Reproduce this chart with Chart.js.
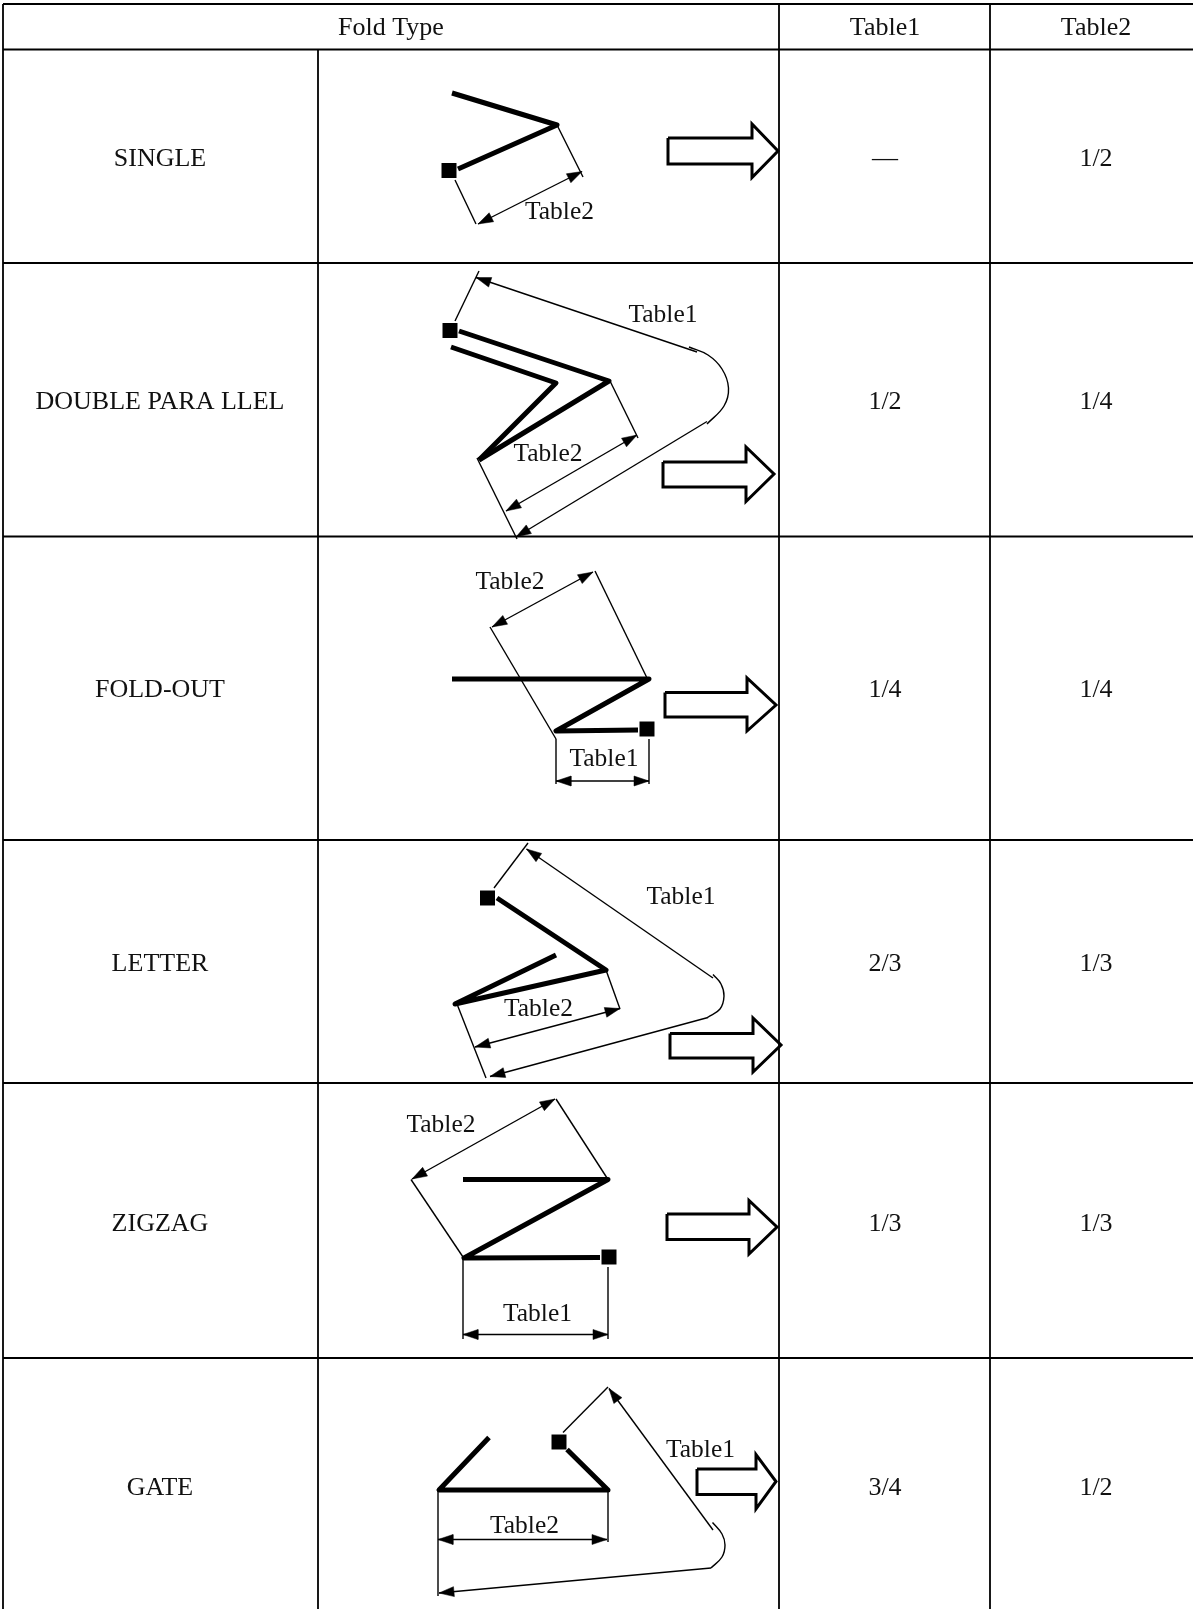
<!DOCTYPE html>
<html lang="en">
<head>
<meta charset="UTF-8">
<title>Fold Type</title>
<script src="https://cdn.jsdelivr.net/npm/chart.js@4.4.0/dist/chart.umd.min.js"></script>
<style>
*{margin:0;padding:0}
html,body{background:#fff;overflow:hidden}
canvas{display:block}
</style>
</head>
<body>
<canvas id="foldChart" width="1193" height="1609"></canvas>
<script>
// table text
const headers = [["Fold Type", 391], ["Table1", 885], ["Table2", 1096]];
const foldTypes = ["SINGLE", "DOUBLE PARA LLEL", "FOLD-OUT", "LETTER", "ZIGZAG", "GATE"];
const table1Values = ["—", "1/2", "1/4", "2/3", "1/3", "3/4"];
const table2Values = ["1/2", "1/4", "1/4", "1/3", "1/3", "1/2"];
const rowCenters = [159, 402, 690.5, 964.5, 1224, 1488];
const columnCenters = [160, 885, 1096];

// table rules, [x1, y1, x2, y2]
const tableRules = [
  [3, 4, 1193, 4], [3, 49.5, 1193, 49.5], [3, 263, 1193, 263], [3, 536.5, 1193, 536.5],
  [3, 840, 1193, 840], [3, 1083, 1193, 1083], [3, 1358, 1193, 1358],
  [3, 4, 3, 1609], [318, 49.5, 318, 1609], [779, 4, 779, 1609], [990, 4, 990, 1609],
];

// paper, one path per fold
const thickPaths = [
  [[452, 93], [557, 125], [458, 169]],
  [[459, 331], [609, 381], [479, 460]],
  [[479, 460], [556, 383], [451, 347]],
  [[452, 679], [649, 679], [556, 731], [638, 730]],
  [[497, 898], [606, 970], [455, 1004], [556, 955]],
  [[463, 1179.5], [608, 1179.5], [464, 1258], [600, 1257.5]],
  [[489, 1437.5], [439, 1490], [608, 1490], [567, 1449.5]],
];
const paperEnds = [[449, 170.5], [450, 330.5], [647, 729], [487.5, 898], [609, 1257], [559, 1442]];

// extension lines
const thinLines = [
  [557, 125, 583, 177], [455, 180, 476, 224],
  [455, 321, 479, 271], [610, 381, 638, 438], [477, 458, 517, 539],
  [595, 571, 647, 678], [490, 627, 556, 739], [556, 739, 556, 784], [649, 739, 649, 784],
  [494, 888, 528, 843], [606, 970, 620, 1009], [457, 1004, 486, 1078],
  [556, 1099, 608, 1179.5], [411, 1179.5, 463, 1257], [463, 1257, 463, 1339], [608, 1267, 608, 1339],
  [563, 1432.5, 608, 1387], [438, 1490, 438, 1596], [608, 1490, 608, 1542],
];

// dimension arrows
const doubleArrows = [
  [478, 224, 582, 171.5],
  [506, 511, 637, 435],
  [492, 627, 593, 572], [556, 781, 649, 781],
  [475, 1047, 620, 1008.5],
  [412, 1179, 555, 1099], [463, 1334.5, 608, 1334.5],
  [438, 1539.5, 607, 1539.5],
];
// head on the last point only
const singleArrows = [
  [697, 352, 476, 277.5], [707, 421.5, 516, 537],
  [713, 978, 526.5, 849], [708, 1017.5, 490, 1076.5],
  [713, 1530, 609, 1388.5], [711, 1568, 439, 1593],
];
const foldArcs = [
  [[689, 347], [708, 355], [722, 369], [728.5, 388], [724, 406], [707, 424]],
  [[713, 974.5], [721, 984], [724, 996], [720, 1009], [707.5, 1017.5]],
  [[712.5, 1522.5], [722, 1534], [725, 1545], [722, 1557], [711, 1568]],
];

// direction arrows at the right of each drawing
const directionArrows = [
  [[668, 138], [752, 138], [752, 124], [778, 151], [752, 177.5], [752, 164], [668, 164]],
  [[663, 462], [746, 462], [746, 447], [774, 474], [746, 501.5], [746, 487], [663, 487]],
  [[665, 692.5], [747, 692.5], [747, 678], [776, 705], [747, 731], [747, 717], [665, 717]],
  [[670, 1033.5], [753, 1033.5], [753, 1018], [781, 1045], [753, 1072], [753, 1058], [670, 1058]],
  [[667, 1214], [749, 1214], [749, 1200.5], [777, 1227], [749, 1254], [749, 1239.5], [667, 1239.5]],
  [[697, 1469], [756, 1469], [756, 1454.5], [776, 1481.5], [756, 1509], [756, 1494.5], [697, 1494.5]],
];

// labels inside the drawings
const drawingLabels = [
  ["Table2", 559.5, 212],
  ["Table1", 663, 315], ["Table2", 548, 454],
  ["Table2", 510, 582], ["Table1", 604, 759],
  ["Table1", 681, 897.5], ["Table2", 538.5, 1009.5],
  ["Table2", 441, 1125], ["Table1", 537.5, 1314],
  ["Table2", 524.5, 1526], ["Table1", 700.5, 1450],
];

const ink = "#000";
const toPts = path => path.map(([x, y]) => ({ x, y }));
const seg = ([x1, y1, x2, y2]) => [{ x: x1, y: y1 }, { x: x2, y: y2 }];

function line(data, width, extra) {
  return { data, showLine: true, borderColor: ink, borderWidth: width, pointRadius: 0, fill: false, tension: 0, clip: false, ...extra };
}

// filled wedge with its tip on (x2, y2)
function head(x1, y1, x2, y2) {
  const len = Math.hypot(x2 - x1, y2 - y1), ux = (x2 - x1) / len, uy = (y2 - y1) / len;
  const bx = x2 - ux * 15, by = y2 - uy * 15;
  return [
    { x: x2, y: y2 },
    { x: bx - uy * 5, y: by + ux * 5 },
    { x: bx + uy * 5, y: by - ux * 5 },
    { x: x2, y: y2 },
  ];
}
const wedge = pts => line(pts, 0.5, { fill: "shape", backgroundColor: ink });

const datasets = [];
tableRules.forEach(r => datasets.push(line(seg(r), 1.8)));
thickPaths.forEach(p => datasets.push(line(toPts(p), 5, { borderJoinStyle: "round" })));
thinLines.forEach(l => datasets.push(line(seg(l), 1.4)));
doubleArrows.forEach(([x1, y1, x2, y2]) => {
  datasets.push(line(seg([x1, y1, x2, y2]), 1.4));
  datasets.push(wedge(head(x1, y1, x2, y2)), wedge(head(x2, y2, x1, y1)));
});
singleArrows.forEach(([x1, y1, x2, y2]) => {
  datasets.push(line(seg([x1, y1, x2, y2]), 1.4));
  datasets.push(wedge(head(x1, y1, x2, y2)));
});
foldArcs.forEach(a => datasets.push(line(toPts(a), 1.4, { tension: 0.4 })));
directionArrows.forEach(a => datasets.push(line(toPts([...a, a[0]]), 3, { borderJoinStyle: "miter" })));
datasets.push({
  data: toPts(paperEnds), showLine: false, pointStyle: "rect", pointRadius: 10.6,
  pointBackgroundColor: ink, pointBorderWidth: 0, clip: false,
});

const textPlugin = {
  id: "tableText",
  afterDatasetsDraw(chart) {
    const { ctx, scales: { x, y } } = chart;
    const put = (text, px, py, font) => {
      ctx.font = font;
      ctx.fillText(text, x.getPixelForValue(px), y.getPixelForValue(py));
    };
    ctx.save();
    ctx.fillStyle = "#111";
    ctx.textAlign = "center";
    ctx.textBaseline = "middle";
    const cellFont = '26px "Liberation Serif"';
    headers.forEach(([t, px]) => put(t, px, 28.5, cellFont));
    rowCenters.forEach((py, i) => {
      put(foldTypes[i], columnCenters[0], py, cellFont);
      put(table1Values[i], columnCenters[1], py, cellFont);
      put(table2Values[i], columnCenters[2], py, cellFont);
    });
    drawingLabels.forEach(([t, px, py]) => put(t, px, py, '25.5px "Liberation Serif"'));
    ctx.restore();
  },
};

new Chart(document.getElementById("foldChart"), {
  type: "scatter",
  data: { datasets },
  options: {
    responsive: false,
    animation: false,
    layout: { padding: 0, autoPadding: false },
    plugins: { legend: { display: false }, tooltip: { enabled: false } },
    scales: {
      x: { type: "linear", display: false, min: 0, max: 1193 },
      y: { type: "linear", display: false, min: 0, max: 1609, reverse: true },
    },
  },
  plugins: [textPlugin],
});
</script>
</body>
</html>
